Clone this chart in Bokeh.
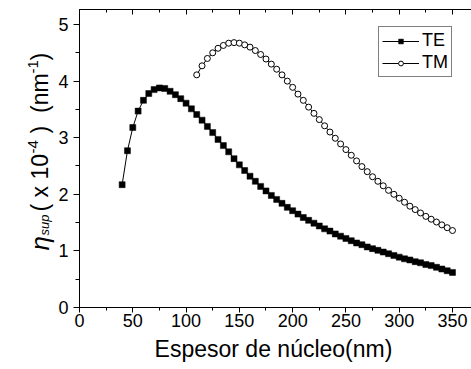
import math
from bokeh.plotting import figure
from bokeh.models import (Range1d, SingleIntervalTicker, LinearAxis, Legend,
                          LegendItem, Label)
from bokeh.embed import file_html
from bokeh.resources import INLINE

# ---- data ----
te_x = list(range(40, 355, 5))
te_y = [2.17, 2.77, 3.18, 3.47, 3.66, 3.78, 3.85, 3.88, 3.87, 3.82,
        3.76, 3.69, 3.61, 3.51, 3.41, 3.31, 3.20, 3.09, 2.97, 2.86,
        2.75, 2.63, 2.52, 2.42, 2.32, 2.23, 2.14, 2.06, 1.98, 1.91,
        1.84, 1.77, 1.71, 1.65, 1.59, 1.54, 1.49, 1.44, 1.39, 1.35,
        1.30, 1.26, 1.22, 1.18, 1.14, 1.11, 1.07, 1.04, 1.01, 0.98,
        0.95, 0.92, 0.89, 0.86, 0.84, 0.81, 0.79, 0.76, 0.74, 0.71,
        0.68, 0.65, 0.62]
tm_x = list(range(110, 355, 5))
tm_y = [4.11, 4.27, 4.40, 4.50, 4.58, 4.63, 4.67, 4.68, 4.67, 4.64,
        4.60, 4.54, 4.47, 4.39, 4.30, 4.21, 4.11, 4.00, 3.89, 3.77,
        3.66, 3.54, 3.43, 3.32, 3.21, 3.10, 2.99, 2.89, 2.79, 2.69,
        2.59, 2.49, 2.40, 2.31, 2.23, 2.15, 2.07, 2.00, 1.93, 1.86,
        1.79, 1.73, 1.67, 1.61, 1.56, 1.51, 1.46, 1.41, 1.36]
series_labels = ["TE", "TM"]
x_title = "Espesor de núcleo(nm)"

FONT = "Liberation Sans"
# visible axis extents
X_AX_END = 367.8
Y_AX_END = 5.265
# full-canvas data window (axes drawn at fixed locations inside it)
X0, X1 = -74.13, 367.83
Y0, Y1 = -1.0954, 5.4240

p = figure(width=471, height=369, output_backend="svg", toolbar_location=None,
           x_range=Range1d(X0, X1), y_range=Range1d(Y0, Y1),
           x_axis_type=None, y_axis_type=None,
           min_border_left=0, min_border_right=0, min_border_top=0,
           min_border_bottom=0)
p.outline_line_color = None
p.background_fill_color = "white"
p.border_fill_color = "white"

def style_axis(ax):
    ax.axis_line_color = "black"
    ax.axis_line_width = 1
    ax.major_tick_line_color = "black"
    ax.minor_tick_line_color = "black"
    ax.major_label_text_font = FONT
    ax.major_label_text_font_size = "18px"
    ax.major_label_text_color = "black"

xaxis = LinearAxis(ticker=SingleIntervalTicker(interval=50, num_minor_ticks=2),
                   bounds=(0, X_AX_END), fixed_location=0)
style_axis(xaxis)
xaxis.major_tick_in = 0
xaxis.major_tick_out = 5
xaxis.minor_tick_in = 0
xaxis.minor_tick_out = 3
xaxis.major_label_standoff = 1
p.add_layout(xaxis, "below")

yaxis = LinearAxis(ticker=SingleIntervalTicker(interval=1, num_minor_ticks=2),
                   bounds=(0, Y_AX_END), fixed_location=0)
style_axis(yaxis)
yaxis.major_tick_in = 0
yaxis.major_tick_out = 6
yaxis.minor_tick_in = 0
yaxis.minor_tick_out = 4
yaxis.major_label_standoff = 5
p.add_layout(yaxis, "left")

top = LinearAxis(ticker=SingleIntervalTicker(interval=50, num_minor_ticks=2),
                 fixed_location=Y_AX_END, bounds=(0, X_AX_END))
style_axis(top)
top.major_tick_in = 5
top.major_tick_out = 0
top.minor_tick_in = 3
top.minor_tick_out = 0
top.major_label_text_color = None
p.add_layout(top, "above")

l1 = p.line(te_x, te_y, line_color="black", line_width=1)
s1 = p.scatter(te_x, te_y, marker="square", size=6, fill_color="black",
               line_color="black", line_width=0.5)
l2 = p.line(tm_x, tm_y, line_color="black", line_width=1)
s2 = p.scatter(tm_x, tm_y, marker="circle", size=6, fill_color="white",
               line_color="black", line_width=1)

legend = Legend(items=[LegendItem(label=series_labels[0], renderers=[l1, s1]),
                       LegendItem(label=series_labels[1], renderers=[l2, s2])],
                location=(378, 292), padding=3, spacing=1, margin=0,
                glyph_width=37, glyph_height=12, label_height=21,
                label_standoff=3, label_text_font=FONT,
                label_text_font_size="18px", label_text_color="black",
                border_line_color="black", border_line_width=1,
                background_fill_color="white", background_fill_alpha=1.0)
p.add_layout(legend)

H = 369  # canvas height, screen y measured from bottom

# x-axis title
p.add_layout(Label(x=273, y=H - 348, x_units="screen", y_units="screen",
                   text=x_title, text_align="center", text_baseline="middle",
                   text_font=FONT, text_font_size="23px", text_color="black"))

# y-axis title built from pieces (rotated text, reading bottom to top)
def piece(text, x_scr, y_from_top, size, style="normal"):
    p.add_layout(Label(x=x_scr, y=H - y_from_top, x_units="screen",
                       y_units="screen", text=text, angle=math.pi / 2,
                       text_align="left", text_baseline="middle",
                       text_font=FONT, text_font_size=f"{size}px",
                       text_font_style=style, text_color="black"))

piece("η", 39, 250, 26, "italic")
piece("sup", 44, 235, 13, "italic")
piece("( x 10", 39, 211, 23)
piece("-4", 32, 153, 15)
piece(")", 39, 133, 23)
piece("(nm", 39, 112.5, 23)
piece("-1", 32, 73, 15)
piece(")", 39, 60, 23)

open("out.html", "w").write(file_html(p, INLINE))
